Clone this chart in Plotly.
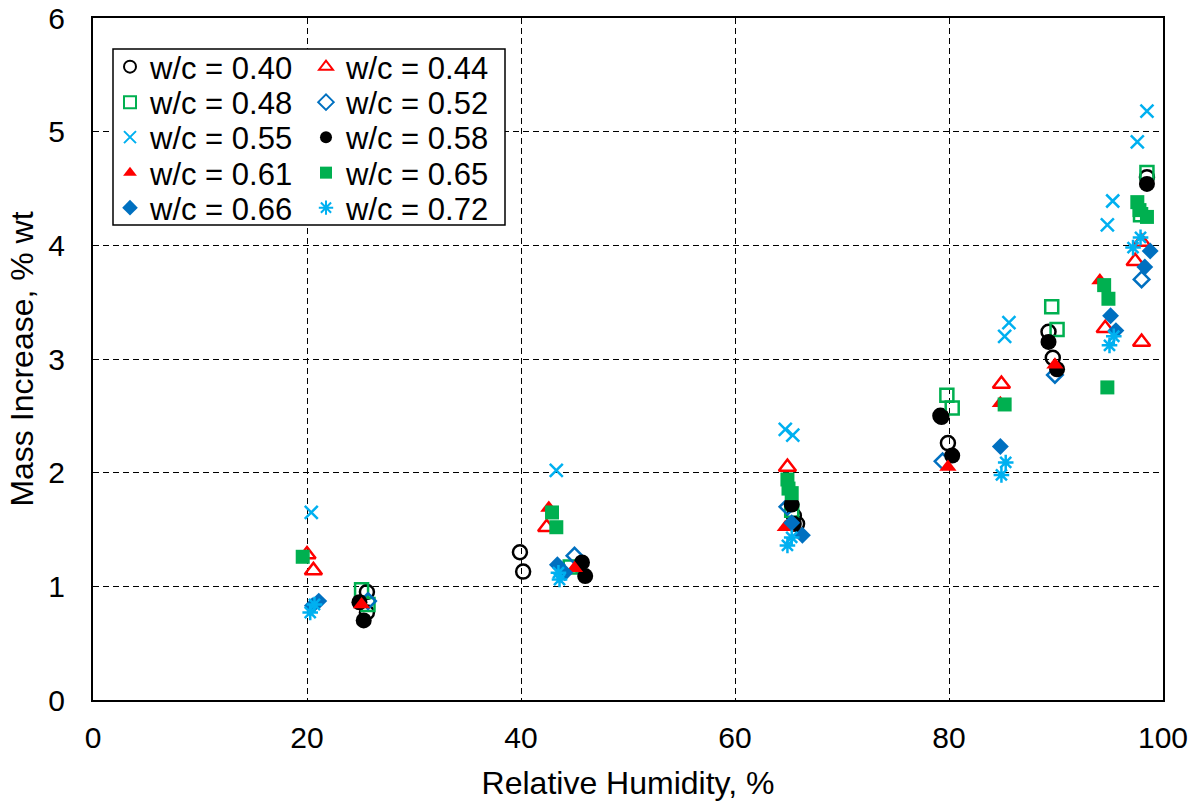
import plotly.graph_objects as go

# Mass increase (% wt) versus relative humidity (%) for each water/cement ratio
wc_040_rh = [25.6, 25.6, 39.9, 40.2, 65.5, 65.8, 79.2, 79.9, 89.3, 89.7, 98.5]
wc_040_m = [0.95, 0.77, 1.30, 1.13, 1.62, 1.55, 2.50, 2.26, 3.24, 3.01, 4.60]

wc_044_rh = [20.0, 20.6, 42.4, 64.9, 84.9, 94.6, 97.4, 98.0, 98.0]
wc_044_m = [1.28, 1.14, 1.52, 2.05, 2.78, 3.27, 3.86, 3.15, 4.03]

wc_048_rh = [25.1, 25.7, 44.6, 65.3, 79.8, 80.3, 89.6, 90.1, 98.5, 97.9]
wc_048_m = [0.97, 0.84, 1.17, 1.67, 2.68, 2.57, 3.46, 3.26, 4.64, 4.27]

wc_052_rh = [25.7, 45.0, 64.9, 79.4, 89.9, 98.0]
wc_052_m = [0.87, 1.27, 1.70, 2.10, 2.86, 3.70]

wc_055_rh = [20.4, 43.3, 64.7, 65.4, 85.2, 85.6, 94.8, 95.3, 97.6, 98.5]
wc_055_m = [1.65, 2.02, 2.38, 2.33, 3.20, 3.32, 4.18, 4.39, 4.91, 5.18]

wc_058_rh = [25.3, 24.9, 45.7, 46.0, 65.3, 65.5, 79.3, 80.3, 89.3, 90.1, 98.5]
wc_058_m = [0.70, 0.86, 1.21, 1.09, 1.72, 1.55, 2.49, 2.15, 3.15, 2.91, 4.54]

wc_061_rh = [25.1, 42.6, 45.0, 64.7, 79.9, 84.8, 89.9, 94.1]
wc_061_m = [0.84, 1.69, 1.16, 1.52, 2.05, 2.61, 2.95, 3.69]

wc_065_rh = [19.6, 42.9, 43.3, 64.9, 65.0, 65.3, 85.2, 94.5, 94.9, 94.8, 97.6, 97.8, 98.5]
wc_065_m = [1.26, 1.65, 1.52, 1.94, 1.86, 1.82, 2.60, 3.65, 3.53, 2.75, 4.38, 4.31, 4.25]

wc_066_rh = [21.1, 20.5, 43.4, 44.1, 65.3, 66.3, 84.8, 95.1, 95.6, 98.8, 98.3]
wc_066_m = [0.87, 0.83, 1.19, 1.12, 1.56, 1.45, 2.23, 3.38, 3.25, 3.95, 3.81]

wc_072_rh = [20.3, 20.7, 43.5, 43.6, 64.9, 65.3, 84.9, 85.3, 95.0, 95.4, 97.2, 97.9]
wc_072_m = [0.77, 0.84, 1.12, 1.06, 1.36, 1.43, 1.98, 2.09, 3.12, 3.20, 3.98, 4.07]

x_ticks = [0, 20, 40, 60, 80, 100]
y_ticks = [0, 1, 2, 3, 4, 5, 6]

BLACK = "#000000"
RED = "#FF0000"
GREEN = "#00B050"
BLUE = "#0070C0"
LIGHT_BLUE = "#00B0F0"
FONT = "Arial, Liberation Sans, sans-serif"

# name, x, y, symbol, size, color, filled
series = [
    ("w/c = 0.40", wc_040_rh, wc_040_m, "circle-open", 14, BLACK, False),
    ("w/c = 0.44", wc_044_rh, wc_044_m, "triangle-up-open", 15, RED, False),
    ("w/c = 0.48", wc_048_rh, wc_048_m, "square-open", 13, GREEN, False),
    ("w/c = 0.52", wc_052_rh, wc_052_m, "diamond-open", 12, BLUE, False),
    ("w/c = 0.55", wc_055_rh, wc_055_m, "x-thin-open", 13, LIGHT_BLUE, False),
    ("w/c = 0.58", wc_058_rh, wc_058_m, "circle", 16, BLACK, True),
    ("w/c = 0.61", wc_061_rh, wc_061_m, "triangle-up", 15, RED, True),
    ("w/c = 0.65", wc_065_rh, wc_065_m, "square", 14, GREEN, True),
    ("w/c = 0.66", wc_066_rh, wc_066_m, "diamond", 13, BLUE, True),
    ("w/c = 0.72", wc_072_rh, wc_072_m, "asterisk-open", 13, LIGHT_BLUE, False),
]

# Plot area in pixels (used to place the two-column key)
PLOT_L, PLOT_R, PLOT_T, PLOT_B = 93, 1163, 18, 700
def px_x(px):
    return (px - PLOT_L) / (PLOT_R - PLOT_L)
def px_y(py):
    return (PLOT_B - py) / (PLOT_B - PLOT_T)

KEY_COL_LEFT = [110, 306]          # left edge of each key column
KEY_ROW_MID = [67, 102.5, 137.5, 173, 208]

fig = go.Figure()
legend_layout = {}
for i, (name, xs, ys, sym, size, color, filled) in enumerate(series):
    leg_id = "legend" if i == 0 else f"legend{i + 1}"
    col, row = i % 2, i // 2
    marker = dict(symbol=sym, size=size, color=color,
                  line=dict(color=color, width=0 if filled else 2.5))
    fig.add_trace(go.Scatter(x=xs, y=ys, mode="markers", name=name,
                             marker=marker, legend=leg_id))
    legend_layout[leg_id] = dict(
        x=px_x(KEY_COL_LEFT[col]), y=px_y(KEY_ROW_MID[row]),
        xanchor="left", yanchor="middle",
        bgcolor="rgba(0,0,0,0)", borderwidth=0,
        font=dict(family=FONT, size=31, color=BLACK),
        itemsizing="constant",
    )

# Frame behind the key
fig.add_shape(type="rect", xref="paper", yref="paper",
              x0=px_x(113), x1=px_x(505), y0=px_y(225), y1=px_y(49),
              line=dict(color=BLACK, width=1.5), fillcolor="white", layer="above")

fig.update_layout(
    width=1197, height=802,
    margin=dict(l=PLOT_L, r=1197 - PLOT_R, t=PLOT_T, b=802 - PLOT_B),
    paper_bgcolor="white", plot_bgcolor="white",
    font=dict(family=FONT, color=BLACK),
    showlegend=True,
    **legend_layout,
)

axis_common = dict(
    showline=True, mirror=True, linecolor=BLACK, linewidth=2,
    showgrid=True, gridcolor=BLACK, gridwidth=1.3, griddash="6px,4px",
    zeroline=False, ticks="", automargin=False,
    tickfont=dict(family=FONT, size=30, color=BLACK),
)

fig.update_xaxes(range=[0, 100], tickvals=x_ticks,
                 title=dict(text="Relative Humidity, %", standoff=19,
                            font=dict(family=FONT, size=32, color=BLACK)),
                 ticklabelstandoff=10, **axis_common)
fig.update_yaxes(range=[0, 6], tickvals=y_ticks,
                 title=dict(text="Mass Increase, % wt", standoff=5,
                            font=dict(family=FONT, size=32, color=BLACK)),
                 ticklabelstandoff=20, **axis_common)

fig.write_html("out.html")
